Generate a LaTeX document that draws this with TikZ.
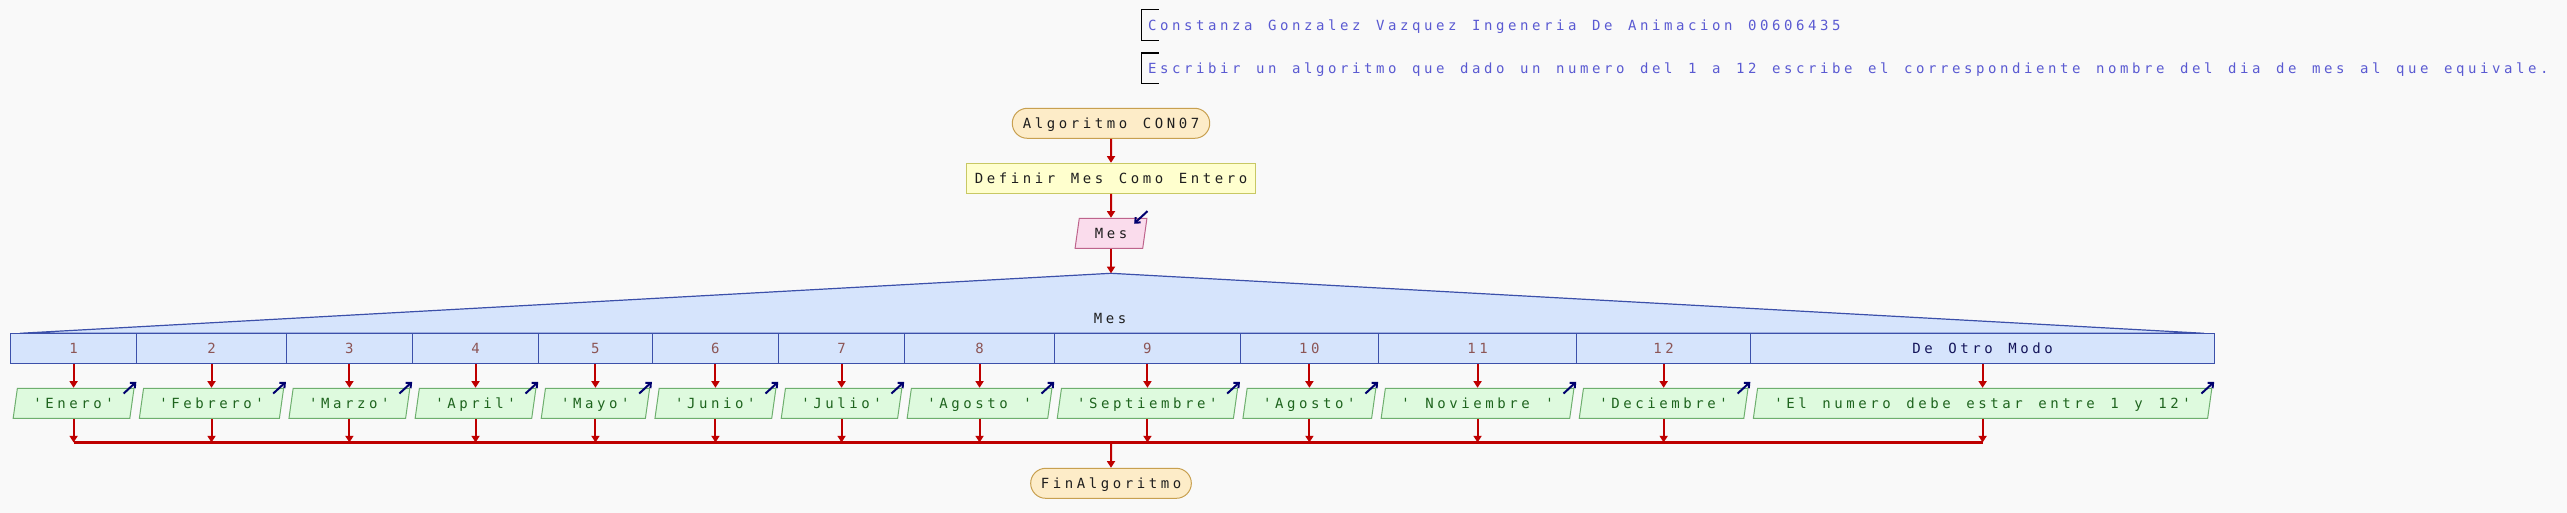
\documentclass[tikz,border=0pt]{standalone}
\usepackage{fontspec}
\usetikzlibrary{shapes.geometric,shapes.misc,arrows.meta,calc}
\newfontfamily\pf{DejaVu Sans Mono}[Ligatures=TeXOff]
\ExplSyntaxOn
\NewDocumentCommand\mono{m}{ \exp_args:Nx \str_map_inline:nn {#1} { \makebox[9pt][c]{##1} } }
\ExplSyntaxOff
\definecolor{bg}{RGB}{249,249,249}
\definecolor{termfill}{RGB}{253,236,200}
\definecolor{termdraw}{RGB}{200,160,80}
\definecolor{procfill}{RGB}{255,255,206}
\definecolor{procdraw}{RGB}{200,200,100}
\definecolor{inpfill}{RGB}{250,220,236}
\definecolor{inpdraw}{RGB}{190,100,140}
\definecolor{outfill}{RGB}{222,250,222}
\definecolor{outdraw}{RGB}{110,175,110}
\definecolor{outtext}{RGB}{30,100,30}
\definecolor{swfill}{RGB}{214,228,252}
\definecolor{swdraw}{RGB}{60,80,170}
\definecolor{numtext}{RGB}{140,85,85}
\definecolor{othtext}{RGB}{20,20,90}
\definecolor{flowred}{RGB}{190,0,0}
\definecolor{navy}{RGB}{0,0,110}
\definecolor{cmtblue}{RGB}{90,90,210}
\definecolor{txtdark}{RGB}{30,30,30}
\tikzset{
  txt/.style={font=\pf\fontsize{10.5pt}{12pt}\selectfont, text=txtdark, text height=7.6pt, text depth=0pt, inner sep=0pt},
  term/.style={txt, rounded rectangle, draw=termdraw, fill=termfill, minimum height=22.5pt, line width=0.75pt},
  proc/.style={txt, rectangle, draw=procdraw, fill=procfill, minimum height=22.5pt, line width=0.75pt},
  io/.style={txt, trapezium, trapezium left angle=67.4, trapezium right angle=112.6, trapezium stretches body, minimum height=22.5pt, line width=0.75pt},
  inp/.style={io, draw=inpdraw, fill=inpfill},
  outp/.style={io, draw=outdraw, fill=outfill, text=outtext},
  cell/.style={txt, rectangle, draw=swdraw, fill=swfill, minimum height=22.5pt, line width=0.9pt, text=numtext},
  flow/.style={draw=flowred, line width=1.5pt, -{Triangle[length=5pt,width=6pt]}},
  flowline/.style={draw=flowred, line width=1.6pt},
  ioarrow/.style={draw=navy, line width=1.5pt, -{Straight Barb[length=3pt,width=5.5pt]}},
  cmt/.style={txt, text=cmtblue, anchor=west, minimum height=22.5pt, inner xsep=3.4pt},
  bracket/.style={draw=black, line width=0.9pt}
}
\begin{document}
\begin{tikzpicture}[x=0.75pt,y=-0.75pt]
\fill[bg] (0,0) rectangle (2567,513);
\useasboundingbox (0,0) rectangle (2567,513);
% comments
\node[cmt] (cm1) at (1141.6,25) {\mono{Constanza Gonzalez Vazquez Ingeneria De Animacion 00606435}};
\node[cmt] (cm2) at (1141.6,68.3) {\mono{Escribir un algoritmo que dado un numero del 1 a 12 escribe el correspondiente nombre del dia de mes al que equivale.}};
\draw[bracket] ([xshift=12.9pt]cm1.north west) -- (cm1.north west) -- (cm1.south west) -- ++(12.9pt,0);
\draw[bracket] ([xshift=12.9pt]cm2.north west) -- (cm2.north west) -- (cm2.south west) -- ++(12.9pt,0);
% top flow
\node[term, minimum width=148.1pt] (alg) at (1111,123.3) {\mono{Algoritmo CON07}};
\node[proc, minimum width=216.9pt] (def) at (1111,178.3) {\mono{Definir Mes Como Entero}};
\node[inp, minimum width=53.9pt] (mes) at (1111,233.3) {\mono{Mes}};
\coordinate (apex) at (1111,273.3);
\draw[flow] (alg) -- (def);
\draw[flow] (def) -- (mes);
\draw[ioarrow] ([yshift=5pt]mes.top right corner) -- ([shift={(-10pt,-4.3pt)}]mes.top right corner);
% switch
\filldraw[fill=swfill, draw=swdraw, line width=0.9pt] (20,333.3) -- (apex) -- (2204,333.3) -- cycle;
\draw[flow] (mes.south) -- (mes.south |- apex);
\node[txt] (sw) at (1110,318.3) {\mono{Mes}};
\foreach \i/\a/\b/\t in {1/10.5/136.7/1, 2/136.7/286.3/2, 3/286.3/412.5/3, 4/412.5/538.6/4, 5/538.6/652.3/5, 6/652.3/778.6/6, 7/778.6/904.5/7, 8/904.5/1054.6/8, 9/1054.6/1240.3/9, 10/1240.3/1378.5/10, 11/1378.5/1576.6/11, 12/1576.6/1750.7/12}{
  \node[cell, minimum width={(\b-\a)*0.75pt}] (c\i) at ({(\a+\b)/2},348.3) {\mono{\t}};
}
\node[cell, minimum width={(2214.5-1750.7)*0.75pt}, text=othtext] (c13) at ({(1750.7+2214.5)/2},348.3) {\mono{De Otro Modo}};
% outputs
\coordinate (jl) at (74,442.5);
\foreach \i/\t in {1/{'Enero'}, 2/{'Febrero'}, 3/{'Marzo'}, 4/{'April'}, 5/{'Mayo'}, 6/{'Junio'}, 7/{'Julio'}, 8/{'Agosto '}, 9/{'Septiembre'}, 10/{'Agosto'}, 11/{' Noviembre '}, 12/{'Deciembre'}, 13/{'El numero debe estar entre 1 y 12'}}{
  \path let \p1=(c\i.west), \p2=(c\i.east) in
    node[outp, minimum width={\x2-\x1-4.9pt}] (p\i) at ($(c\i.center)+(0,-41.25pt)$) {\mono{\t}};
  \draw[flow] (c\i.south) -- (c\i.south |- p\i.north);
  \draw[flow] (c\i.south |- p\i.south) -- (c\i.south |- jl);
  \draw[ioarrow] ([shift={(-8.25pt,-4.3pt)}]p\i.top right corner) -- ([shift={(1.3pt,4.5pt)}]p\i.top right corner);
}
\draw[flowline] (c1.south |- jl) -- (c13.south |- jl);
\node[term, minimum width=120.5pt] (fin) at (1111,483.3) {\mono{FinAlgoritmo}};
\draw[flow] (fin.north |- jl) -- (fin);
\end{tikzpicture}
\end{document}
